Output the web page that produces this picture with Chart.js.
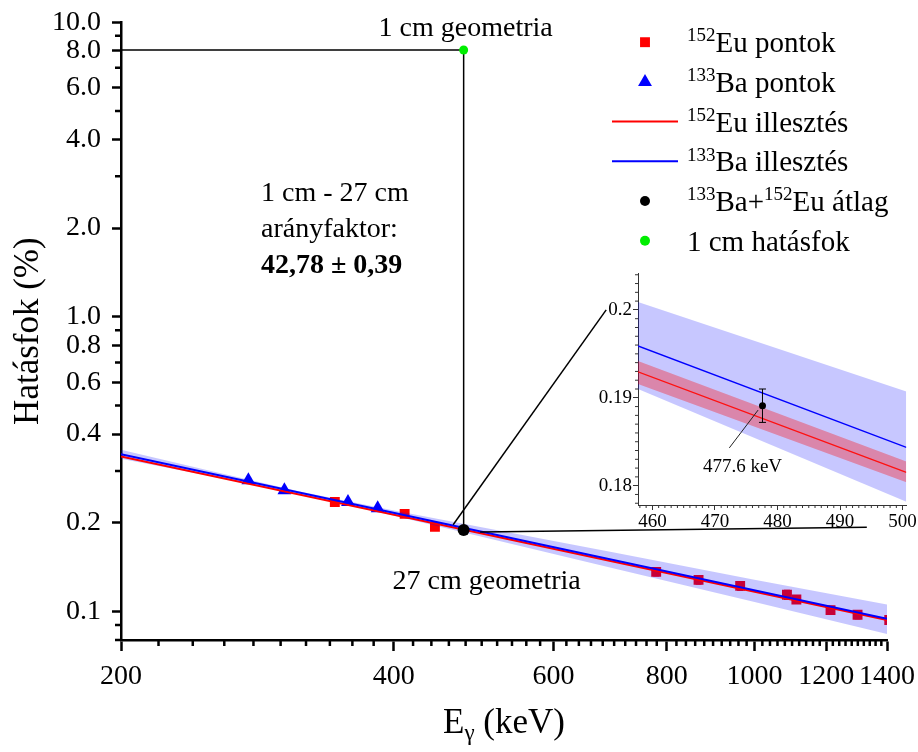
<!DOCTYPE html>
<html lang="hu">
<head>
<meta charset="UTF-8">
<title>Hatásfok – 1 cm / 27 cm geometria</title>
<script src="https://cdn.jsdelivr.net/npm/chart.js"></script>
<style>
  body { margin: 0; background: #fff; }
  #wrap { position: relative; width: 918px; height: 752px; }
  #mainChart { position: absolute; left: 0; top: 0; }
  #insetChart { position: absolute; left: 590px; top: 260px; }
</style>
</head>
<body>
<div id="wrap">
  <canvas id="mainChart" width="918" height="752"></canvas>
  <canvas id="insetChart" width="328" height="290"></canvas>
</div>
<script>
const FONT = '"Liberation Serif", "Times New Roman", serif';

// measured points (keV, %)
const euEnergy = [344.3, 411.1, 444.0, 778.9, 867.4, 964.1, 1085.8, 1112.1, 1212.9, 1299.1, 1408.0];
const euEff    = [0.2353, 0.2143, 0.1937, 0.1362, 0.1280, 0.1221, 0.1139, 0.1098, 0.1010, 0.0975, 0.0935];
const euErr    = [0.006, 0.005, 0.005, 0.004, 0.004, 0.004, 0.004, 0.003, 0.003, 0.003, 0.003];
const baEnergy = [276.4, 302.9, 356.0, 383.9];
const baEff    = [0.279, 0.258, 0.235, 0.224];

// fits (endpoints)
const fitE     = [200, 1400];
const euFit    = [0.336, 0.0935];
const baFit    = [0.342, 0.0945];

// 133Ba fit confidence band
const bandE    = [200, 250, 316, 400, 500, 700, 1000, 1400];
const bandHi   = [0.354, 0.301, 0.2547, 0.2203, 0.1931, 0.1584, 0.1282, 0.1055];
const bandLo   = [0.330, 0.2888, 0.2501, 0.2114, 0.1794, 0.1399, 0.1076, 0.0838];

// average point and 1 cm efficiency
const avgE = 477.6, avgEff = 0.1891, avgErr = 0.0019;
const oneCmEff = 8.05;

// zoom connector lines (data coords of main plot)
const connAE = [465, 686], connAV = [0.197, 1.056];
const connBE = [498, 1330], connBV = [0.1859, 0.1932];

// inset values
const insE     = [457.7, 500.6];
const insBaFit = [0.1959, 0.18435];
const insEuFit = [0.19295, 0.18151];
const insBaHi  = [0.2009, 0.19072];
const insBaLo  = [0.19099, 0.17818];
const insEuHi  = [0.1942, 0.18276];
const insEuLo  = [0.19156, 0.18038];
const arrowE = [472.3, 476.9], arrowV = [0.1843, 0.1886];

// ticks
const xMajor = [200, 400, 600, 800, 1000, 1200, 1400];
const xMinor = [];
for (let v = 220; v < 1400; v += 20) if (!xMajor.includes(v)) xMinor.push(v);
const yMajor = [0.1, 0.2, 0.4, 0.6, 0.8, 1, 2, 4, 6, 8, 10];
const yMinor = [0.08, 0.09, 0.3, 0.5, 0.7, 0.9, 3, 5, 7, 9];
const insXMajor = [460, 470, 480, 490, 500];
const insYMajor = [0.18, 0.19, 0.2];
const insXMinor = [];
for (let v = 458; v <= 500; v++) if (!insXMajor.includes(v)) insXMinor.push(v);
const insYMinor = [];
for (let k = 178; k <= 204; k++) if (k % 10) insYMinor.push(k / 1000);

const pts = (xs, ys) => xs.map((x, i) => ({x: x, y: ys[i]}));

function richParts(str) {
  const parts = [];
  const re = /\^\{([^}]*)\}|([^^]+)/g;
  let m;
  while ((m = re.exec(str))) parts.push(m[1] !== undefined ? {t: m[1], sup: true} : {t: m[2], sup: false});
  return parts;
}
function drawRich(ctx, str, x, y, size) {
  richParts(str).forEach(p => {
    const s = p.sup ? Math.round(size * 0.65) : size;
    ctx.font = s + 'px ' + FONT;
    ctx.fillText(p.t, x, p.sup ? y - size * 0.37 : y);
    x += ctx.measureText(p.t).width;
  });
}

const minorTicks = {
  id: 'minorTicks',
  afterDraw(chart, args, o) {
    const ctx = chart.ctx, xs = chart.scales.x, ys = chart.scales.y;
    ctx.save();
    ctx.strokeStyle = o.color; ctx.lineWidth = o.width;
    ctx.beginPath();
    o.x.forEach(v => { const p = xs.getPixelForValue(v); ctx.moveTo(p, xs.top); ctx.lineTo(p, xs.top + o.len); });
    o.y.forEach(v => { const p = ys.getPixelForValue(v); ctx.moveTo(ys.right, p); ctx.lineTo(ys.right - o.len, p); });
    ctx.stroke();
    ctx.restore();
  }
};

const errorBars = {
  id: 'errorBars',
  afterDatasetDraw(chart, args) {
    const ds = chart.data.datasets[args.index];
    if (!ds.errors) return;
    const ctx = chart.ctx, ys = chart.scales.y, a = chart.chartArea, cap = ds.errorCap;
    ctx.save();
    ctx.beginPath(); ctx.rect(a.left, a.top, a.right - a.left, a.bottom - a.top); ctx.clip();
    ctx.strokeStyle = ds.errorColor; ctx.lineWidth = ds.errorWidth;
    ctx.beginPath();
    args.meta.data.forEach((pt, i) => {
      const v = ds.data[i].y, e = ds.errors[i];
      const y1 = ys.getPixelForValue(v + e), y2 = ys.getPixelForValue(v - e);
      ctx.moveTo(pt.x, y1); ctx.lineTo(pt.x, y2);
      ctx.moveTo(pt.x - cap, y1); ctx.lineTo(pt.x + cap, y1);
      ctx.moveTo(pt.x - cap, y2); ctx.lineTo(pt.x + cap, y2);
    });
    ctx.stroke();
    ctx.restore();
  }
};

const notes = {
  id: 'notes',
  afterDraw(chart, args, o) {
    const ctx = chart.ctx, xs = chart.scales.x, ys = chart.scales.y;
    ctx.save();
    ctx.fillStyle = '#000'; ctx.textBaseline = 'alphabetic';
    o.items.forEach(n => {
      ctx.font = n.font; ctx.textAlign = n.align || 'left';
      ctx.fillText(n.text, xs.getPixelForValue(n.x) + (n.dx || 0), ys.getPixelForValue(n.y) + (n.dy || 0));
    });
    ctx.restore();
  }
};

const richLegend = {
  id: 'richLegend',
  afterDraw(chart, args, o) {
    const ctx = chart.ctx, a = chart.chartArea;
    ctx.save();
    ctx.textAlign = 'left'; ctx.textBaseline = 'alphabetic';
    chart.data.datasets.filter(d => d.legendText).forEach((d, i) => {
      const mx = a.right - o.right, my = a.top + o.top + i * o.step;
      if (d.legendMarker === 'line') {
        ctx.strokeStyle = d.borderColor; ctx.lineWidth = 2;
        ctx.beginPath(); ctx.moveTo(mx - 33, my); ctx.lineTo(mx + 33, my); ctx.stroke();
      } else {
        ctx.fillStyle = d.backgroundColor;
        Chart.helpers.drawPoint(ctx, {pointStyle: d.pointStyle, radius: d.legendRadius, rotation: 0, borderWidth: 0}, mx, my);
      }
      ctx.fillStyle = '#000';
      drawRich(ctx, d.legendText, mx + 42, my + 10, 29);
    });
    ctx.restore();
  }
};

const xTitle = {
  id: 'xTitle',
  afterDraw(chart) {
    const ctx = chart.ctx, a = chart.chartArea;
    const big = '35px ' + FONT, small = '23px ' + FONT;
    ctx.save();
    ctx.fillStyle = '#000'; ctx.textAlign = 'left'; ctx.textBaseline = 'alphabetic';
    ctx.font = big; const wE = ctx.measureText('E').width, wR = ctx.measureText(' (keV)').width;
    ctx.font = small; const wG = ctx.measureText('γ').width;
    let x = (a.left + a.right) / 2 - (wE + wG + wR) / 2;
    const y = a.bottom + 93;
    ctx.font = big; ctx.fillText('E', x, y); x += wE;
    ctx.font = small; ctx.fillText('γ', x, y + 7); x += wG;
    ctx.font = big; ctx.fillText(' (keV)', x, y);
    ctx.restore();
  }
};

const lineDs = (data, color, width, order) => ({
  type: 'line', data: data, borderColor: color, borderWidth: width,
  pointRadius: 0, tension: 0, fill: false, order: order
});

new Chart(document.getElementById('mainChart'), {
  type: 'scatter',
  data: {
    datasets: [
      { label: '152Eu pontok', legendText: '^{152}Eu pontok', data: pts(euEnergy, euEff),
        pointStyle: 'rect', pointRadius: 7, legendRadius: 7, backgroundColor: '#ff0000', borderWidth: 0, order: 8,
        errors: euErr, errorColor: '#ff0000', errorWidth: 1.5, errorCap: 3 },
      { label: '133Ba pontok', legendText: '^{133}Ba pontok', data: pts(baEnergy, baEff),
        pointStyle: 'triangle', pointRadius: 8, legendRadius: 8, backgroundColor: '#0000ff', borderWidth: 0, order: 7 },
      Object.assign(lineDs(pts(fitE, euFit), '#ff0000', 2, 4), { label: '152Eu illesztés', legendText: '^{152}Eu illesztés', legendMarker: 'line' }),
      Object.assign(lineDs(pts(fitE, baFit), '#0000ff', 2, 3), { label: '133Ba illesztés', legendText: '^{133}Ba illesztés', legendMarker: 'line' }),
      { label: 'átlag', legendText: '^{133}Ba+^{152}Eu átlag', data: [{x: avgE, y: avgEff}],
        pointStyle: 'circle', pointRadius: 6, legendRadius: 5, backgroundColor: '#000', borderWidth: 0, order: 1 },
      { label: '1 cm hatásfok', legendText: '1 cm hatásfok', data: [{x: avgE, y: oneCmEff}],
        pointStyle: 'circle', pointRadius: 4.5, legendRadius: 5, backgroundColor: '#00ee00', borderWidth: 0, order: 0 },
      lineDs([{x: 200, y: oneCmEff}, {x: avgE, y: oneCmEff}, {x: avgE, y: avgEff}], '#000', 1.5, 2),
      lineDs(pts(connAE, connAV), '#000', 1.5, 2),
      lineDs(pts(connBE, connBV), '#000', 1.5, 2),
      Object.assign(lineDs(pts(bandE, bandHi), 'rgba(0,0,0,0)', 0, 5), { fill: '+1', backgroundColor: 'rgba(0,0,255,0.22)' }),
      lineDs(pts(bandE, bandLo), 'rgba(0,0,0,0)', 0, 6)
    ]
  },
  options: {
    responsive: false,
    animation: false,
    layout: { padding: { top: 22, right: 31, left: 0, bottom: 0 } },
    plugins: {
      legend: { display: false },
      tooltip: { enabled: false },
      minorTicks: { x: xMinor, y: yMinor, len: 6, width: 2.5, color: '#000' },
      richLegend: { right: 242, top: 20, step: 39.7 },
      notes: { items: [
        { text: '1 cm geometria', x: avgE, y: oneCmEff, dx: 2, dy: -14, align: 'center', font: '28px ' + FONT },
        { text: '27 cm geometria', x: avgE, y: avgEff, dx: 23, dy: 59, align: 'center', font: '28px ' + FONT },
        { text: '1 cm - 27 cm', x: 285.4, y: 2.47, font: '28px ' + FONT },
        { text: 'arányfaktor:', x: 285.4, y: 2.47, dy: 35.5, font: '28px ' + FONT },
        { text: '42,78 ± 0,39', x: 285.4, y: 2.47, dy: 71.5, font: 'bold 28px ' + FONT }
      ] }
    },
    scales: {
      x: {
        type: 'logarithmic', min: 200, max: 1400,
        afterBuildTicks: s => { s.ticks = xMajor.map(v => ({value: v})); },
        afterFit: s => { s.height = 112; },
        grid: { drawOnChartArea: false, tickLength: 11, tickWidth: 2.5, tickColor: '#000' },
        border: { color: '#000', width: 2.5 },
        ticks: { autoSkip: false, maxRotation: 0, padding: 3, color: '#000',
                 font: { family: FONT, size: 28, lineHeight: 1.65 }, callback: v => String(v) }
      },
      y: {
        type: 'logarithmic', min: 0.08, max: 10,
        afterBuildTicks: s => { s.ticks = yMajor.map(v => ({value: v})); },
        afterFit: s => { s.width = 121; },
        grid: { drawOnChartArea: false, tickLength: 9, tickWidth: 2.5, tickColor: '#000' },
        border: { color: '#000', width: 2.5 },
        title: { display: true, text: 'Hatásfok (%)', color: '#000', font: { family: FONT, size: 35 },
                 padding: { top: 8, bottom: 0 } },
        ticks: { autoSkip: false, padding: 11, color: '#000',
                 font: { family: FONT, size: 28, lineHeight: 0.8 }, callback: v => Number(v).toFixed(1) }
      }
    }
  },
  plugins: [minorTicks, errorBars, notes, richLegend, xTitle]
});

new Chart(document.getElementById('insetChart'), {
  type: 'scatter',
  data: {
    datasets: [
      { data: [{x: avgE, y: avgEff}], pointStyle: 'circle', pointRadius: 3.5, backgroundColor: '#000',
        borderWidth: 0, order: 0, errors: [avgErr], errorColor: '#000', errorWidth: 1, errorCap: 3.5 },
      lineDs(pts(arrowE, arrowV), '#222', 1, 1),
      lineDs(pts(insE, insBaFit), '#0000ff', 1.3, 2),
      lineDs(pts(insE, insEuFit), '#ff1010', 1.3, 3),
      Object.assign(lineDs(pts(insE, insEuHi), 'rgba(0,0,0,0)', 0, 4), { fill: '+1', backgroundColor: 'rgba(255,0,0,0.33)' }),
      lineDs(pts(insE, insEuLo), 'rgba(0,0,0,0)', 0, 5),
      Object.assign(lineDs(pts(insE, insBaHi), 'rgba(0,0,0,0)', 0, 6), { fill: '+1', backgroundColor: 'rgba(0,0,255,0.22)' }),
      lineDs(pts(insE, insBaLo), 'rgba(0,0,0,0)', 0, 7)
    ]
  },
  options: {
    responsive: false,
    animation: false,
    layout: { padding: { top: 13, right: 11, left: 0, bottom: 0 } },
    plugins: {
      legend: { display: false },
      tooltip: { enabled: false },
      minorTicks: { x: insXMinor, y: insYMinor, len: 3, width: 1, color: '#333' },
      notes: { items: [
        { text: '477.6 keV', x: 474.4, y: 0.1816, align: 'center', font: '19px ' + FONT }
      ] }
    },
    scales: {
      x: {
        type: 'linear', min: 457.7, max: 500.6,
        afterBuildTicks: s => { s.ticks = insXMajor.map(v => ({value: v})); },
        afterFit: s => { s.height = 45; },
        grid: { drawOnChartArea: false, tickLength: 5, tickWidth: 1, tickColor: '#333' },
        border: { color: '#333', width: 1 },
        ticks: { autoSkip: false, maxRotation: 0, padding: 1, color: '#000',
                 font: { family: FONT, size: 19 }, callback: v => String(v) }
      },
      y: {
        type: 'linear', min: 0.1778, max: 0.2042,
        afterBuildTicks: s => { s.ticks = insYMajor.map(v => ({value: v})); },
        afterFit: s => { s.width = 48; },
        grid: { drawOnChartArea: false, tickLength: 5, tickWidth: 1, tickColor: '#333' },
        border: { color: '#333', width: 1 },
        ticks: { autoSkip: false, padding: 1, color: '#000',
                 font: { family: FONT, size: 19 }, callback: v => String(+Number(v).toFixed(2)) }
      }
    }
  },
  plugins: [minorTicks, errorBars, notes]
});
</script>
</body>
</html>
